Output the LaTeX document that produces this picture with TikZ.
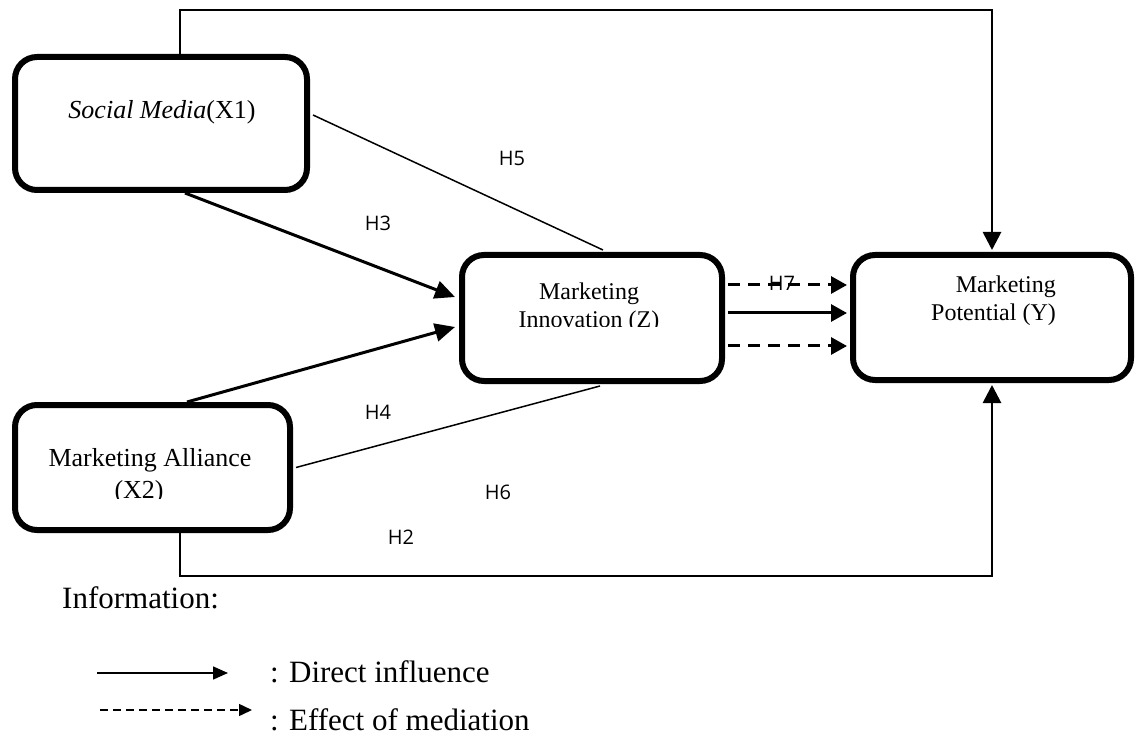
\documentclass[tikz,border=0pt]{standalone}
\usepackage{fontspec}
\setmainfont{Liberation Serif}
\newfontfamily\lblfont{Open Sans}
\usetikzlibrary{arrows.meta}
\begin{document}
\begin{tikzpicture}[x=1pt,y=-1pt,
  box/.style={draw,line width=6pt,rounded corners=22pt,inner sep=0pt},
  boxtext/.style={inner sep=0pt,font=\fontsize{24}{28}\selectfont},
  xtext/.style={inner sep=0pt,font=\fontsize{26}{32}\selectfont},
  hlabel/.style={inner sep=0pt,font=\lblfont\fontsize{20}{23}\selectfont},
  thinline/.style={line width=1.5pt},
  thickarrow/.style={line width=3pt,-{Triangle[length=20pt,width=18pt]}},
  outerline/.style={line width=1.8pt},
  outerarrow/.style={line width=2.8pt,-{Triangle[length=18pt,width=18pt]},shorten >=2pt},
  medarrow/.style={line width=3pt,dash pattern=on 12pt off 8pt,-{Triangle[length=16pt,width=17pt]}},
  legtext/.style={inner sep=0pt,anchor=base west,font=\fontsize{31}{36}\selectfont},
]
\useasboundingbox (0,0) rectangle (1138,735);

% boxes
\node[box,minimum width=292pt,minimum height=133pt] (x1) at (161,123.5) {};
\node[box,minimum width=260pt,minimum height=126pt] (z) at (592,318) {};
\node[box,minimum width=278pt,minimum height=125pt] (y) at (992,317.5) {};
\node[box,minimum width=275pt,minimum height=125pt] (x2) at (152.5,467.5) {};

% box texts
\node[xtext] (x1t) at (162,112) {\textit{Social Media}(X1)};
\begin{scope}
  \clip (470,262) rectangle (715,327);
  \node[boxtext,align=center] (zt) at (589,308) {Marketing\\Innovation (Z)};
\end{scope}
\node[boxtext,align=right,anchor=east] (yt) at (1056,301) {Marketing\\Potential (Y)};
\begin{scope}
  \clip (22,412) rectangle (283,498);
  \node[xtext,align=left] (x2t) at (150,476) {Marketing Alliance\\\hspace*{66pt}(X2)};
\end{scope}

% outer connectors (H1, H2)
\coordinate (tc) at (y.north |- 0,10);
\coordinate (bc) at (y.south |- 0,576);
\draw[outerline] ([xshift=19pt]x1.north) |- (tc);
\draw[outerarrow] ([yshift=0.9pt]tc) -- (y.north);
\draw[outerline] ([xshift=27.5pt]x2.south) |- (bc);
\draw[outerarrow] ([yshift=-0.9pt]bc) -- (y.south);

% H3, H4
\draw[thickarrow] ([xshift=24pt]x1.south) -- ([xshift=-4pt,yshift=21pt]z.west);
\draw[thickarrow] ([xshift=34.5pt]x2.north) -- ([xshift=-4pt,yshift=-9pt]z.west);

% H5, H6
\draw[thinline] ([xshift=3pt,yshift=8.5pt]x1.east) -- ([xshift=11pt,yshift=2pt]z.north);
\draw[thinline] ([xshift=3pt]x2.east) -- ([xshift=8pt,yshift=-2pt]z.south);

% H7
\draw[medarrow] ([xshift=3pt]z.east |- 0,285) -- ([xshift=-3pt]y.west |- 0,285);
\draw[thickarrow,-{Triangle[length=16pt,width=17pt]}] ([xshift=3pt]z.east |- 0,313) -- ([xshift=-3pt]y.west |- 0,313);
\draw[medarrow] ([xshift=3pt]z.east |- 0,346) -- ([xshift=-3pt]y.west |- 0,346);

% labels
\node[hlabel] (h5) at (512,158) {H5};
\node[hlabel] (h3) at (378,223) {H3};
\node[hlabel] (h4) at (378,412) {H4};
\node[hlabel] (h6) at (498,492) {H6};
\node[hlabel] (h2) at (401,537) {H2};
\node[hlabel] (h7) at (782,283) {H7};

% legend
\node[legtext] (info) at (62,608) {Information:};
\coordinate (ls1) at (97,673);
\coordinate (ls2) at (228,673);
\draw[thinline,-{Triangle[length=15pt,width=13pt]}] (ls1) -- (ls2);
\coordinate (ld1) at (100,710);
\coordinate (ld2) at (252,710);
\draw[thinline,dash pattern=on 8pt off 5pt,-{Triangle[length=13pt,width=12pt]}] (ld1) -- (ld2);
\node[legtext] (leg1) at (270,682) {: Direct influence};
\node[legtext] (leg2) at (270,730) {: Effect of mediation};
\end{tikzpicture}
\end{document}
